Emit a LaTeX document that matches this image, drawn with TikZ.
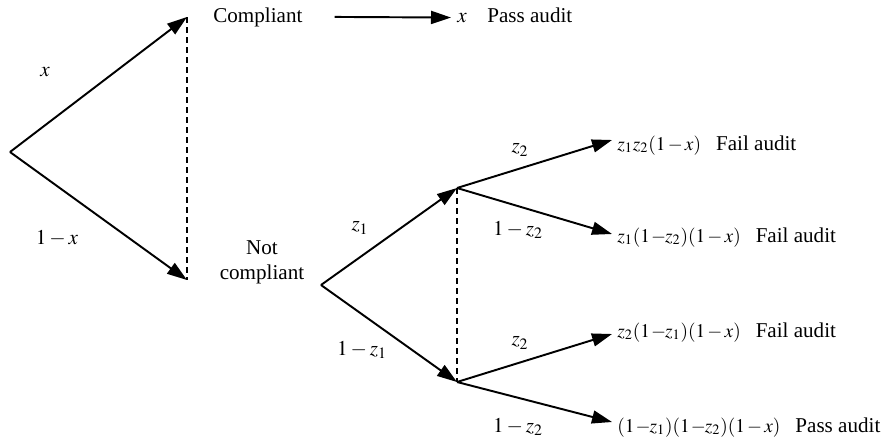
\documentclass[tikz,border=0pt]{standalone}
\usepackage{mathptmx}
\usepackage{fontspec}
\setmainfont{Liberation Serif}
\usepackage{tikz}
\usetikzlibrary{arrows.meta, positioning}
\tikzset{>={Triangle[length=4mm,width=2.6mm]}}
\tikzset{
  branch/.style={->, line width=1.1pt},
  infoset/.style={line width=0.9pt, dash pattern=on 1.2mm off 0.8mm},
  outcome/.style={anchor=base west, inner sep=0pt},
  prob/.style={inner sep=0pt}
}
% tight minus as in the printed payoffs
\newcommand{\tm}{\mskip1mu{-}\mskip-1mu}
\newcommand{\sm}{\mskip2mu{-}\mskip2mu}
\newcommand{\payoff}[2]{{\fontsize{11}{13}\selectfont$#1$}\hspace{3mm}#2}

\begin{document}
\begin{tikzpicture}[x=0.2mm, y=-0.2mm, font=\fontsize{12}{14.2}\selectfont]
		\useasboundingbox (0,0) rectangle (887,439);
		% decision points
		\coordinate (root) at (10,152);
		\coordinate (comp) at (187,17);
		\coordinate (notcomp) at (187,280);
		\coordinate (audit) at (321,285);
		\coordinate (fixed) at (457,188);
		\coordinate (unfixed) at (457,382);
		\coordinate (o1) at (612,140);
		\coordinate (o2) at (612,234);
		\coordinate (o3) at (612,334);
		\coordinate (o4) at (612,422);
		% texts
		\node (comptext) [outcome] at (213,22) {Compliant};
		\node (passx) [outcome] at (457,22) {$x$};
		\node (passtext) [outcome] at (487,22) {Pass audit};
		\node (notcomptext) [align=center] at (262,262) {Not\\compliant};
		\node (r1) [outcome] at (617,150) {\payoff{z_1z_2(1\sm x)}{Fail audit}};
		\node (r2) [outcome] at (617,242) {\payoff{z_1(1\tm z_2)(1\sm x)}{Fail audit}};
		\node (r3) [outcome] at (617,337) {\payoff{z_2(1\tm z_1)(1\sm x)}{Fail audit}};
		\node (r4) [outcome] at (617,432) {\payoff{(1\tm z_1)(1\tm z_2)(1\sm x)}{Pass audit}};
		% probabilities
		\node (px) [prob] at (45,72) {$x$};
		\node (pnx) [prob] at (57,238) {$1-x$};
		\node (pz1) [prob] at (360,228) {$z_1$};
		\node (pnz1) [prob] at (362,350) {$1-z_1$};
		\node (pz2a) [prob] at (520,150) {$z_2$};
		\node (pnz2a) [prob] at (518,230) {$1-z_2$};
		\node (pz2b) [prob] at (520,343) {$z_2$};
		\node (pnz2b) [prob] at (518,427) {$1-z_2$};
		% branches
		\path[branch]
			(root) edge (comp)
			(root) edge (notcomp)
			(audit) edge (fixed)
			(audit) edge (unfixed)
			(fixed) edge (o1)
			(fixed) edge (o2)
			(unfixed) edge (o3)
			(unfixed) edge (o4);
		\draw[branch] ([xshift=6.4mm]comptext.east) -- ([xshift=-1.2mm]passx.west);
		% information sets
		\draw[infoset] (comp) -- (notcomp);
		\draw[infoset] (fixed) -- (unfixed);
	\end{tikzpicture}
\end{document}
